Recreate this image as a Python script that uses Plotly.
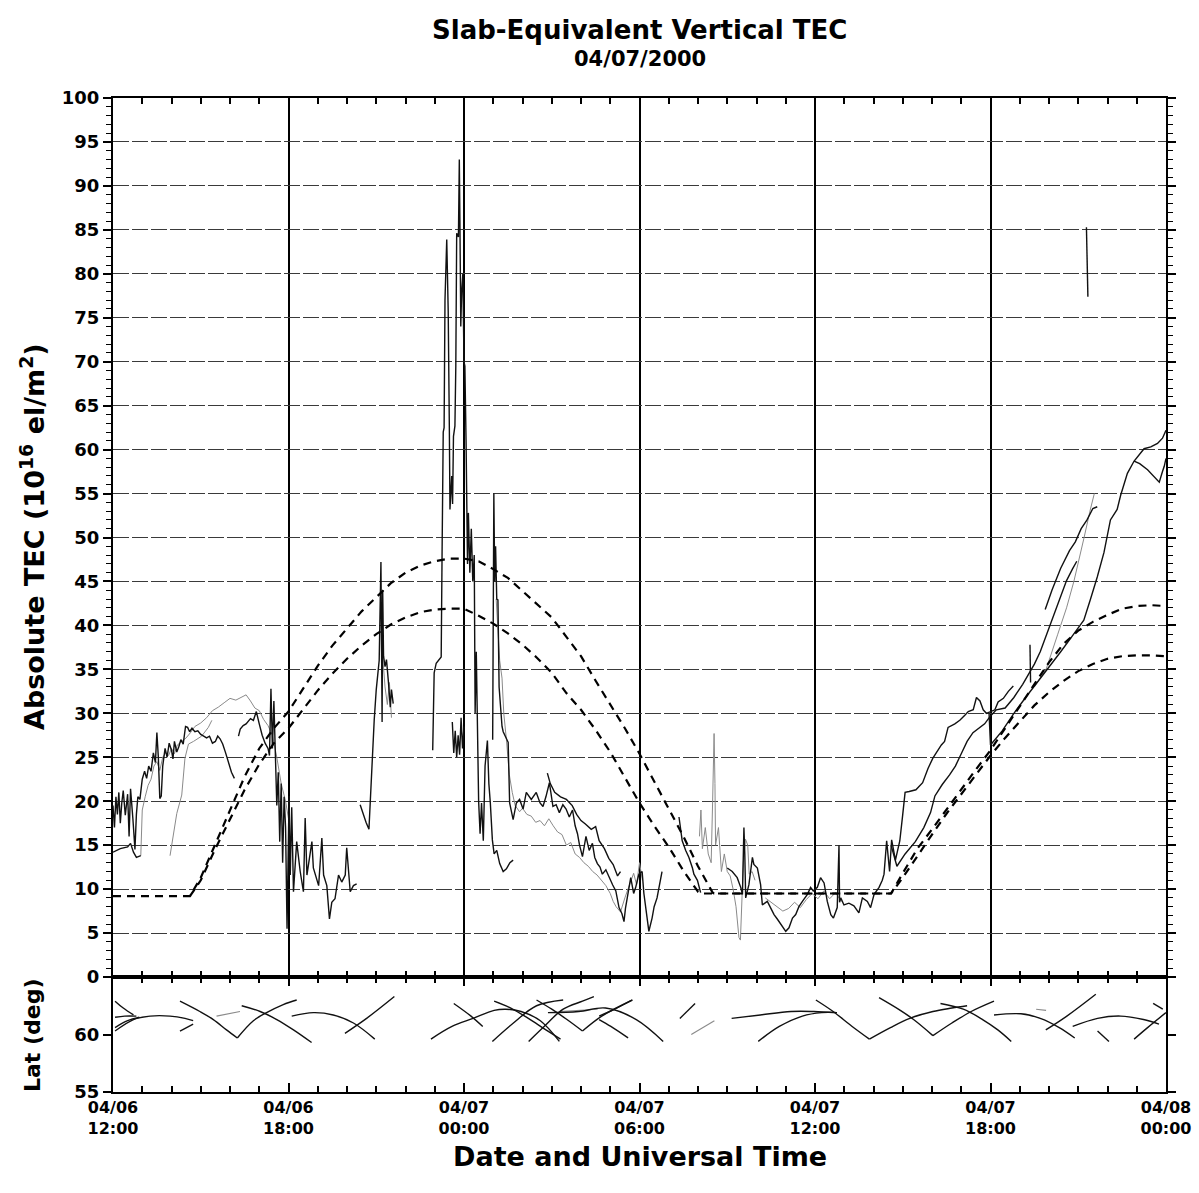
import plotly.graph_objects as go

# ---------------- data (hours after 04/06 12:00 UT, TEC in 1e16 el/m^2) ----------------
tick_hours = [0, 6, 12, 18, 24, 30, 36]
tick_labels = ["04/06<br>12:00", "04/06<br>18:00", "04/07<br>00:00", "04/07<br>06:00",
               "04/07<br>12:00", "04/07<br>18:00", "04/08<br>00:00"]
tec_ticks = list(range(0, 101, 5))
lat_ticks = [55, 60]

# black TEC traces (one list per satellite segment)
black_start_low = [(0.0,14.2),(0.25,14.6),(0.5,14.8),(0.6,15.2),(0.7,14.2),(0.8,13.6),(0.95,13.8)]
black_early = [(0.0,19.5),(0.05,17),(0.1,20.5),(0.15,18.5),(0.2,21),(0.25,17.5),(0.3,19.8),(0.35,21.2),
               (0.42,18.4),(0.5,20.8),(0.55,16),(0.6,21.4),(0.68,18),(0.75,14.5),(0.8,18.5),(0.85,20.5),
               (0.92,20.2),(1.0,22.5),(1.08,23.4),(1.15,22.6),(1.22,24),(1.3,23.4),(1.38,25.5),(1.45,24.4),
               (1.5,27.8),(1.55,25),(1.6,20.3),(1.65,20.6),(1.7,24),(1.78,26),(1.85,25),(1.92,26.6),
               (2.0,25.8),(2.05,24.8),(2.1,26.8),(2.18,25.6),(2.25,26.2),(2.32,27),(2.4,26.5),(2.48,28.5),
               (2.55,28.4),(2.62,27.9),(2.7,28.3),(2.8,27.9),(2.9,28),(3.0,27.6),(3.1,27.4),(3.2,27.2),
               (3.3,27.4),(3.4,26.6),(3.5,26.8),(3.58,27.4),(3.66,27.1),(3.75,26.5),(3.85,25.5),
               (3.95,24.5),(4.05,23.3),(4.15,22.6)]
black_evening = [(4.29,27.4),(4.35,28.2),(4.45,28.6),(4.55,28.8),(4.7,29.4),(4.8,29.2),(4.9,30.2),
                 (4.95,29.3),(5.0,28.8),(5.1,27.5),(5.2,26.6),(5.3,26.0),(5.35,25.2),(5.4,32.8),(5.45,26.0),
                 (5.5,31.4),(5.55,24.0),(5.6,19.5),(5.65,23.3),(5.7,15.4),(5.75,22.0),(5.8,13.0),(5.85,20.5),
                 (5.9,17.0),(5.95,5.5),(5.98,12.0),(6.02,20.6),(6.06,11.6),(6.11,19.3),(6.17,9.7),(6.28,15.4),
                 (6.4,12.0),(6.51,9.7),(6.57,18.1),(6.63,11.6),(6.8,15.4),(6.85,12.4),(7.03,10.4),(7.14,15.8),
                 (7.2,11.6),(7.31,10.4),(7.4,6.6),(7.48,8.5),(7.59,8.9),(7.71,11.6),(7.82,10.8),(7.94,11.6),
                 (7.99,14.7),(8.11,9.7),(8.22,10.4),(8.33,10.6)]
black_spike_21 = [(8.45,19.6),(8.55,18.5),(8.65,17.6),(8.75,16.8),(8.79,20.0),(8.85,23.9),(8.93,29.2),
                  (9.0,32.7),(9.1,36.0),(9.16,47.2),(9.2,29.0),(9.22,44.0),(9.25,36.5),(9.3,35.3),
                  (9.35,36.1),(9.42,33.4),(9.48,30.7),(9.52,32.7),(9.58,31.1)]
black_midnight = [(10.93,25.8),(10.95,30.0),(10.98,34.6),(11.05,35.7),(11.15,36.1),(11.22,36.4),(11.25,48.0),
                  (11.29,62.0),(11.32,62.5),(11.35,77.0),(11.41,83.9),(11.46,75.7),(11.5,62.0),(11.52,53.2),
                  (11.58,57),(11.61,53.8),(11.64,61.5),(11.69,62.7),(11.72,69.5),(11.75,84.6),(11.81,84.2),
                  (11.84,93.0),(11.86,86.1),(11.89,74),(11.92,78.0),(11.96,80),(12.0,70),(12.03,69.5),
                  (12.07,61.1),(12.09,52.8),(12.12,47),(12.15,52.8),(12.2,46),(12.25,51),(12.3,45),(12.35,48),
                  (12.38,30),(12.42,37),(12.46,26),(12.5,20),(12.55,16.3),(12.6,19.8),(12.66,15.5),(12.72,24.0),
                  (12.8,26.9),(12.85,22.0),(12.9,19.8),(12.97,15.6),(13.03,14.0),(13.12,14.4),(13.22,12.9),
                  (13.34,12.0),(13.45,12.3),(13.57,13.0),(13.68,13.3)]
black_midnight_low = [(11.6,29.0),(11.65,25.5),(11.7,28.0),(11.75,25.0),(11.8,27.5),(11.85,25.3),(11.9,29.5),
                      (11.95,26.0),(12.0,28.5)]
black_decay = [(12.98,27),(13.02,55),(13.05,45),(13.08,49),(13.12,43),(13.16,42.9),(13.2,33),(13.25,30),
               (13.3,28.5),(13.34,27.9),(13.51,26.7),(13.56,19.8),(13.68,17.9),(13.79,19.8),(13.9,20.2),
               (14.02,19.1),(14.13,21),(14.3,20.2),(14.47,21),(14.6,19.8),(14.7,19.4),(14.8,20.5),(14.92,22.1),
               (15.04,19.4),(15.15,19.6),(15.26,18.7),(15.38,19.6),(15.49,19.1),(15.6,18.2),(15.71,19),
               (15.8,17.2),(15.88,16.3),(15.95,15),(16.05,13.7),(16.17,16),(16.28,14.4),(16.39,15.2),
               (16.47,13.6),(16.56,12.9),(16.65,12.5),(16.73,11.7),(16.85,12.2),(16.96,11.3),(17.08,10.5),
               (17.19,9.8),(17.3,7.9),(17.4,7.2),(17.47,6.3),(17.52,7.8),(17.58,9),(17.7,11.3),(17.8,9.5),
               (17.87,10.2),(17.98,11.7),(18.09,12),(18.15,9.5),(18.2,8.3),(18.32,5.2),(18.43,6.7),(18.5,8),
               (18.6,9),(18.72,11.3),(18.77,12)]
black_decay_upper = [(14.85,23.2),(14.95,22),(15.1,21),(15.3,20.5),(15.5,20.2),(15.7,19.5),(15.85,18.5),
                     (16.0,17.8),(16.15,17.4),(16.35,16.8),(16.5,17.1),(16.62,15.5),(16.8,14.6),(16.95,13.5),
                     (17.1,12.8),(17.25,11.5),(17.35,12)]
black_dawn = [(19.35,18.2),(19.41,17),(19.46,15.5),(19.58,14.4),(19.69,13.6),(19.81,12.4),(19.86,11.7),
              (19.98,11),(20.09,9.6)]
black_day2 = [(21.0,12.4),(21.17,12),(21.34,11.3),(21.46,10.2),(21.52,9.4),(21.57,17.0),(21.6,14),(21.63,9.0),
              (21.74,10.5),(21.86,13.6),(21.91,12.8),(22.03,12.4),(22.14,10.5),(22.2,8.2),(22.37,8.6),
              (22.48,7.9),(22.6,7.1),(22.71,6.6),(22.83,6.0),(23.0,5.2),(23.11,5.6),(23.23,6.7),(23.34,7.1),
              (23.45,8.0),(23.57,8.6),(23.74,9.4),(23.85,10.2),(23.94,9.8),(24.08,10.2),(24.19,11.3),
              (24.31,10.7),(24.42,8.6),(24.54,7.1),(24.63,6.7),(24.76,7.9),(24.82,15.0),(24.84,8.5),
              (24.88,9.0),(24.99,8.2),(25.16,8.4),(25.33,8.1),(25.5,7.3),(25.62,9.0),(25.79,8.6),(25.9,7.9),
              (26.02,9.4),(26.19,10.2),(26.3,11.0),(26.36,11.7),(26.45,15.5),(26.55,12.0),(26.62,15.6),
              (26.75,13.3),(26.9,15.5),(27.0,18.5),(27.08,21.0),(27.22,21.1),(27.45,21.3),(27.68,22.1),
              (27.86,23.7),(28.03,24.9),(28.2,25.8),(28.32,26.4),(28.43,26.8),(28.55,28.4),(28.78,28.8),
              (28.95,29.2),(29.13,29.8),(29.24,30.2),(29.41,30.4),(29.52,31.8),(29.64,31.4),(29.75,30.4),
              (29.86,30.0),(30.15,30.4),(30.26,31.3),(30.44,31.7),(30.61,32.5),(30.78,33.1)]
black_rise_mid = [(26.6,15.0),(26.8,12.6),(27.08,14.0),(27.43,15.4),(27.72,17.0),(27.95,18.7),(28.1,20.6),
                  (28.35,21.9),(28.6,23.0),(28.8,24.0),(29.0,25.4),(29.2,26.8),(29.4,27.8),(29.6,28.3),
                  (29.8,28.8),(30.0,29.7),(30.2,30.4),(30.5,30.6),(30.8,31.8),(31.1,33.3),(31.3,34.5),
                  (31.5,35.6),(31.7,37.0),(31.9,38.8),(32.05,40.2),(32.2,41.6),(32.4,43.4),(32.6,45.1),
                  (32.8,46.4),(32.95,47.3)]
black_rise_main = [(29.95,30.0),(30.0,26.4),(30.4,28.0),(30.8,30.0),(31.2,31.8),(31.6,33.5),(32.0,35.3),
                   (32.4,37.0),(32.8,38.8),(33.19,40.6),(33.42,43.0),(33.65,45.5),(33.88,48.3),(34.1,52.0),
                   (34.33,53.2),(34.45,54.8),(34.68,57.3),(34.91,58.7),(35.25,60.1),(35.48,60.3),(35.71,60.7),
                   (35.88,61.3),(36.0,62.2)]
black_rise_branch = [(34.91,58.7),(35.1,58.4),(35.37,57.7),(35.6,56.9),(35.77,56.3),(35.88,57.5),(35.94,58.1),
                     (36.0,59.0)]
black_rise_thin = [(31.87,41.8),(32.1,44.0),(32.4,46.5),(32.7,48.5),(32.9,49.5),(33.1,51.0),(33.3,52.0),
                   (33.5,53.3),(33.65,53.5)]
black_short = [(31.35,37.8),(31.37,33.5)]
black_isolated = [(33.28,85.3),(33.33,77.4)]

# gray (fainter) TEC traces
gray_early = [(0.95,13.8),(1.0,19.0),(1.1,20.5),(1.2,21.8),(1.3,22.5),(1.4,24.0),(1.5,24.5),(1.6,23.5),
              (1.7,25.0),(1.8,25.5),(1.9,25.2),(2.0,26.0),(2.1,25.4),(2.2,26.4),(2.35,26.8),(2.5,27.2),
              (2.65,27.8),(2.8,28.5),(3.0,28.9),(3.2,29.5),(3.4,30.3),(3.6,30.7),(3.8,31.2),(4.0,31.7),
              (4.2,31.5),(4.4,31.9),(4.55,32.1),(4.7,31.4),(4.85,30.6),(5.0,30.3),(5.15,29.3),(5.3,28.6),
              (5.45,27.5),(5.6,25.0),(5.75,22.0),(5.9,20.0),(6.0,18.0)]
gray_rise = [(1.95,13.8),(2.06,16.1),(2.18,18.6),(2.35,20.7),(2.46,24.9),(2.58,26.5),(2.75,26.8),(3.03,27.4),
             (3.26,28.4),(3.38,29.2)]
gray_spike_21 = [(9.22,36.5),(9.3,33),(9.38,31),(9.45,33.5),(9.52,29.5)]
gray_decay = [(13.1,43),(13.15,40),(13.22,36),(13.3,34),(13.36,30),(13.45,27),(13.55,23),(13.65,21),
              (13.75,19.5),(13.9,18.8),(14.0,19.2),(14.15,18.5),(14.3,18.3),(14.45,17.6),(14.6,17.8),
              (14.75,17.2),(14.9,18),(15.05,17.2),(15.2,16.5),(15.35,16.2),(15.5,15),(15.65,15.3),(15.8,14),
              (15.95,13.6),(16.1,13),(16.25,12.6),(16.4,12),(16.55,11.6),(16.7,11),(16.85,10.4),(17.0,9.5),
              (17.1,8.6),(17.2,8),(17.35,7.4),(17.5,9),(17.6,10),(17.7,11),(17.8,11.8),(17.9,10.5),(18.0,13),
              (18.1,11)]
gray_dawn = [(20.05,16),(20.1,19),(20.15,14.6),(20.25,17),(20.35,14),(20.45,13),(20.5,20),(20.55,27.7),
             (20.58,22),(20.6,15),(20.7,17),(20.8,12),(20.9,14),(21.0,12),(21.1,11.5),(21.2,10),(21.3,8),
             (21.4,4.5),(21.45,4.2),(21.5,9),(21.55,13),(21.62,15.7),(21.7,15),(21.75,11.7),(21.85,12),
             (21.95,11)]
gray_day2 = [(22.3,9),(22.5,8.5),(22.7,8),(22.9,7.5),(23.1,7.8),(23.3,8.5),(23.5,7.9),(23.7,8.8),(23.9,9.5),
             (24.1,8.9),(24.3,9.8),(24.5,8.9),(24.7,9.6),(24.9,8.6)]
gray_right = [(31.5,33.0),(31.9,35.0),(32.3,39.0),(32.6,42.0),(32.85,45.0),(33.0,47.0),(33.2,50.0),
              (33.4,53.0),(33.55,55.0)]

# dashed model curves
model_upper = [(0,9.2),(2.63,9.2),(3.0,11.3),(3.5,15.2),(4.0,19.0),(4.5,22.8),(5.0,26.0),(5.5,28.3),(6.0,30.2),
               (6.5,32.8),(7.0,35.4),(7.5,37.7),(8.0,39.6),(8.5,41.6),(9.0,43.2),(9.5,44.8),(10.0,46.0),
               (10.5,46.8),(11.0,47.3),(11.5,47.6),(12.0,47.6),(12.5,47.3),(13.0,46.4),(13.5,45.4),(14.0,43.9),
               (14.5,42.4),(15.0,40.9),(15.5,38.7),(16.0,36.5),(16.5,33.7),(17.0,31.0),(17.5,28.3),(18.0,25.4),
               (18.5,22.3),(19.0,19.1),(19.5,16.0),(20.0,12.6),(20.5,9.6),(20.55,9.5),(26.6,9.5),(27.0,11.8),
               (27.5,14.6),(28.0,16.8),(28.5,19.1),(29.0,21.3),(29.5,23.6),(30.0,25.8),(30.5,28.3),(31.0,30.8),
               (31.5,33.2),(32.0,35.8),(32.5,37.9),(33.0,39.4),(33.5,40.4),(34.0,41.2),(34.5,41.9),(35.0,42.2),
               (35.5,42.3),(36.0,42.2)]
model_lower = [(2.63,9.2),(3.0,11.0),(3.5,14.6),(4.0,18.0),(4.5,21.3),(5.0,24.2),(5.5,26.6),(6.0,28.3),
               (6.5,30.5),(7.0,32.6),(7.5,34.5),(8.0,36.2),(8.5,37.7),(9.0,39.0),(9.5,40.1),(10.0,40.9),
               (10.5,41.5),(11.0,41.8),(11.5,41.9),(12.0,41.9),(12.5,41.1),(13.0,40.2),(13.5,39.1),(14.0,37.8),
               (14.5,36.3),(15.0,34.6),(15.5,32.3),(16.0,30.4),(16.5,28.1),(17.0,25.6),(17.5,22.7),(18.0,19.8),
               (18.5,17.2),(19.0,14.8),(19.5,12.1),(20.0,9.7),(20.1,9.5),(26.6,9.5),(27.0,11.3),(27.5,13.8),
               (28.0,16.2),(28.5,18.6),(29.0,20.8),(29.5,23.0),(30.0,25.2),(30.5,27.2),(31.0,29.1),(31.5,30.9),
               (32.0,32.4),(32.5,33.7),(33.0,34.8),(33.5,35.6),(34.0,36.2),(34.5,36.5),(35.0,36.6),(35.5,36.6),
               (36.0,36.5)]

# pierce-point latitude (deg) per satellite pass
lat_passes_black = [
    [(0.07,62.9),(0.35,62.3),(0.7,61.7)],
    [(0.07,60.3),(0.7,61.3),(1.27,61.6),(1.95,61.6),(2.46,61.4),(2.74,61.2)],
    [(0.07,60.6),(0.5,61.2),(0.9,61.5)],
    [(0.07,61.5),(0.4,61.6),(0.8,61.6)],
    [(2.29,62.9),(2.97,62.0),(3.43,61.3),(3.88,60.4),(4.25,59.7)],
    [(4.25,59.7),(4.8,61.2),(5.25,61.9),(5.82,62.6),(6.28,63.0)],
    [(4.4,62.5),(5.03,62.0),(5.6,61.3),(6.17,60.4),(6.79,59.3)],
    [(6.11,61.6),(6.85,61.9),(7.53,61.7),(8.22,61.0),(8.95,59.6)],
    [(7.93,60.1),(8.67,61.4),(9.62,63.3)],
    [(2.29,60.3),(2.74,60.9)],
    [(10.87,59.6),(11.59,60.7),(12.31,61.4),(13.03,62.1),(13.43,62.2),(13.95,62.0),(14.61,61.2),(15.26,59.4)],
    [(11.65,62.7),(12.24,61.6),(12.64,60.7)],
    [(13.03,62.9),(13.6,62.3),(14.2,61.4),(14.8,60.4),(15.3,59.6)],
    [(12.97,59.4),(13.69,61.0),(14.48,62.5),(15.39,63.0)],
    [(14.21,59.4),(14.74,60.7),(15.39,62.2),(16.05,62.9),(16.44,63.3)],
    [(14.48,63.0),(15.0,62.2),(15.52,61.3),(16.05,60.3)],
    [(16.05,60.3),(16.71,61.6),(17.76,63.0)],
    [(14.87,61.9),(15.92,62.0),(16.84,62.3),(17.89,61.3),(18.81,59.4)],
    [(16.62,61.6),(17.15,62.2),(17.74,63.0)],
    [(16.62,61.3),(17.02,60.7),(17.61,59.7)],
    [(19.38,61.4),(19.9,62.7)],
    [(21.15,61.4),(22.13,61.7),(23.18,62.0),(23.96,62.0),(24.75,61.9)],
    [(22.06,59.4),(22.78,60.7),(23.57,61.6),(24.23,61.9),(24.75,61.9)],
    [(24.03,63.0),(24.62,62.0),(25.27,60.7),(25.86,59.6)],
    [(25.86,59.6),(26.58,60.6),(27.24,61.4),(28.03,62.0),(28.68,62.3),(29.2,62.5)],
    [(26.19,63.2),(26.85,62.2),(27.37,61.3),(28.03,59.9)],
    [(28.03,59.9),(28.68,61.0),(29.34,62.0),(30.12,62.9)],
    [(28.29,62.7),(29.07,62.2),(29.73,61.3),(30.25,60.4),(30.71,59.4)],
    [(30.12,61.7),(31.04,61.8),(31.7,61.4),(32.35,60.6),(32.88,59.7)],
    [(31.89,60.4),(32.61,61.6),(33.6,63.5)],
    [(32.81,60.7),(33.66,61.4),(34.45,61.6),(35.23,61.3),(35.76,60.9)],
    [(33.66,60.3),(34.05,59.4)],
    [(34.91,59.6),(35.37,60.6),(36.0,61.9)],
    [(35.56,62.7),(35.89,62.2)],
]
lat_passes_gray = [
    [(3.54,61.6),(4.34,62.0)],
    [(15.26,62.0),(16.57,62.2)],
    [(19.77,60.0),(20.56,61.2)],
    [(31.56,62.2),(31.9,62.1)],
]

# ---------------- helpers ----------------
def join(segments):
    xs, ys = [], []
    for seg in segments:
        for h, v in seg:
            xs.append(h)
            ys.append(v)
        xs.append(None)
        ys.append(None)
    return xs, ys

fig = go.Figure()

gray_x, gray_y = join([gray_early, gray_rise, gray_spike_21, gray_decay, gray_dawn, gray_day2, gray_right])
fig.add_trace(go.Scatter(x=gray_x, y=gray_y, mode="lines", line=dict(color="#8a8a8a", width=1),
                         xaxis="x", yaxis="y", hoverinfo="skip", showlegend=False))

black_x, black_y = join([black_start_low, black_early, black_evening, black_spike_21, black_midnight,
                         black_midnight_low, black_decay, black_decay_upper, black_dawn, black_day2,
                         black_rise_mid, black_rise_main, black_rise_branch, black_rise_thin,
                         black_short, black_isolated])
fig.add_trace(go.Scatter(x=black_x, y=black_y, mode="lines", line=dict(color="#111111", width=1.4),
                         xaxis="x", yaxis="y", hoverinfo="skip", showlegend=False))

for model in (model_upper, model_lower):
    mx, my = join([model])
    fig.add_trace(go.Scatter(x=mx, y=my, mode="lines",
                             line=dict(color="black", width=2.2, dash="8px,6px"),
                             xaxis="x", yaxis="y", hoverinfo="skip", showlegend=False))

lgx, lgy = join(lat_passes_gray)
fig.add_trace(go.Scatter(x=lgx, y=lgy, mode="lines", line=dict(color="#8a8a8a", width=1.1, shape="spline"),
                         xaxis="x2", yaxis="y2", hoverinfo="skip", showlegend=False))
lbx, lby = join(lat_passes_black)
fig.add_trace(go.Scatter(x=lbx, y=lby, mode="lines", line=dict(color="#111111", width=1.4, shape="spline"),
                         xaxis="x2", yaxis="y2", hoverinfo="skip", showlegend=False))

# ---------------- layout ----------------
W, H = 1199, 1193
L, R, T, B = 113, 33, 98, 101
plot_h = H - T - B
split = (1092 - 977) / plot_h
FONT = "DejaVu Sans"

common_x = dict(range=[0, 36], tickvals=tick_hours, showline=True, linewidth=2, linecolor="black",
                mirror="ticks", ticks="inside", ticklen=9, tickwidth=1.5, tickcolor="black",
                minor=dict(dtick=1, ticks="inside", ticklen=6, tickwidth=1.5, tickcolor="black", showgrid=False),
                zeroline=False, automargin=False)

fig.update_layout(
    width=W, height=H,
    margin=dict(l=L, r=R, t=T, b=B, autoexpand=False),
    paper_bgcolor="white", plot_bgcolor="white",
    font=dict(family=FONT, color="black", weight="bold"),
    xaxis=dict(common_x, domain=[0, 1], anchor="y", showticklabels=False,
               showgrid=True, gridcolor="black", gridwidth=1.5),
    yaxis=dict(domain=[split, 1], anchor="x", range=[0, 100], tickvals=tec_ticks,
               showline=True, linewidth=2, linecolor="black", mirror="ticks",
               ticks="outside", ticklen=8, tickwidth=1.5, tickcolor="black", automargin=False,
               minor=dict(dtick=1, ticks="outside", ticklen=5, tickwidth=1.2, tickcolor="black", showgrid=False),
               showgrid=True, gridcolor="#3a3a3a", gridwidth=1, griddash="16px,3px",
               zeroline=False, tickfont=dict(family=FONT, size=18, weight="bold", color="black")),
    xaxis2=dict(common_x, domain=[0, 1], anchor="y2", matches="x", showticklabels=True,
                ticktext=tick_labels, showgrid=False,
                tickfont=dict(family=FONT, size=16, weight="bold", color="black")),
    yaxis2=dict(domain=[0, split], anchor="x2", range=[55, 65], tickvals=lat_ticks,
                showline=True, linewidth=2, linecolor="black", mirror="ticks", automargin=False,
                ticks="outside", ticklen=8, tickwidth=1.5, tickcolor="black", showgrid=False, zeroline=False,
                tickfont=dict(family=FONT, size=18, weight="bold", color="black")),
    annotations=[
        dict(text="Slab-Equivalent Vertical TEC", xref="paper", yref="paper", x=0.5,
             y=1 + (T - 30) / plot_h, xanchor="center", yanchor="middle", showarrow=False,
             font=dict(family=FONT, size=26, weight="bold", color="black")),
        dict(text="04/07/2000", xref="paper", yref="paper", x=0.5,
             y=1 + (T - 59) / plot_h, xanchor="center", yanchor="middle", showarrow=False,
             font=dict(family=FONT, size=21, weight="bold", color="black")),
        dict(text="Absolute TEC (10<sup>16</sup> el/m<sup>2</sup>)", xref="paper", yref="paper",
             x=(32 - L) / (W - L - R), y=(1092 - 537) / plot_h, textangle=-90,
             xanchor="center", yanchor="middle", showarrow=False,
             font=dict(family=FONT, size=27, weight="bold", color="black")),
        dict(text="Lat (deg)", xref="paper", yref="paper",
             x=(32 - L) / (W - L - R), y=(1092 - 1035) / plot_h, textangle=-90,
             xanchor="center", yanchor="middle", showarrow=False,
             font=dict(family=FONT, size=22, weight="bold", color="black")),
        dict(text="Date and Universal Time", xref="paper", yref="paper",
             x=0.5, y=(1092 - 1156) / plot_h, xanchor="center", yanchor="middle", showarrow=False,
             font=dict(family=FONT, size=27, weight="bold", color="black")),
    ],
)

fig.write_html("out.html")
